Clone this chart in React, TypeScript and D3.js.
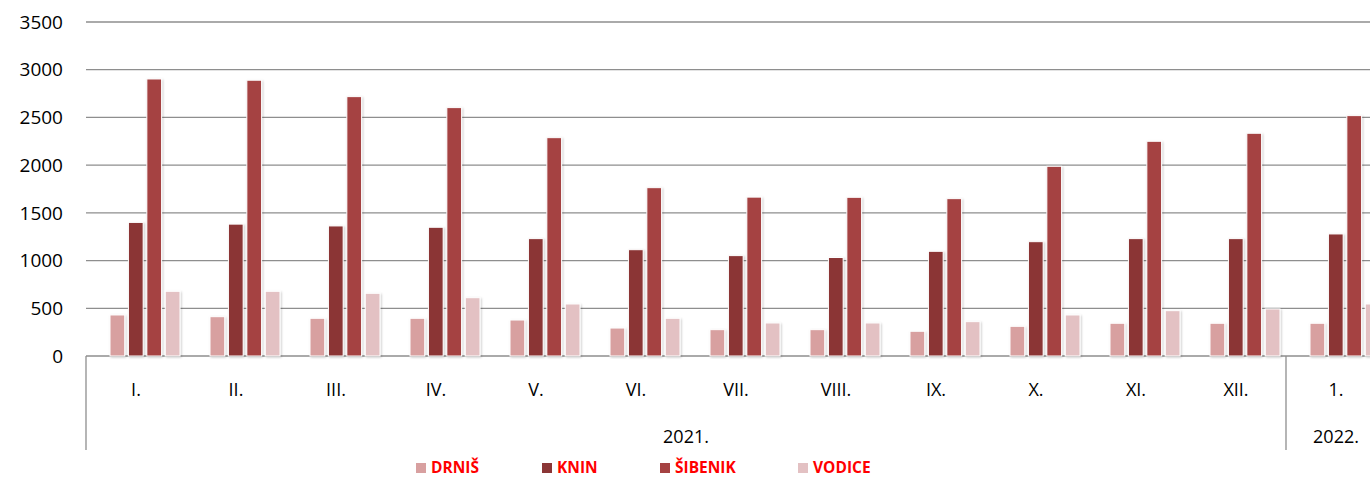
import React, { useEffect, useRef } from 'react';
import * as d3 from 'd3';

// months (2021 I.–XII., then 2022 1.)
const months = ['I.', 'II.', 'III.', 'IV.', 'V.', 'VI.', 'VII.', 'VIII.', 'IX.', 'X.', 'XI.', 'XII.', '1.'];
const years = [
  { label: '2021.', from: 0, to: 12 },
  { label: '2022.', from: 12, to: 13 },
];
const seriesNames = ['DRNIŠ', 'KNIN', 'ŠIBENIK', 'VODICE'];
const drnis = [430, 412, 395, 395, 377, 293, 276, 276, 259, 311, 343, 343, 343];
const knin = [1400, 1382, 1363, 1349, 1230, 1114, 1052, 1032, 1097, 1198, 1230, 1230, 1279];
const sibenik = [2903, 2890, 2718, 2603, 2288, 1764, 1665, 1663, 1649, 1988, 2250, 2334, 2519];
const vodice = [678, 678, 657, 611, 545, 395, 346, 346, 360, 430, 475, 493, 545];
const yTicks = [0, 500, 1000, 1500, 2000, 2500, 3000, 3500];
const colors = ['#d8a0a0', '#8b3636', '#a54242', '#e3c1c3'];

const App = () => {
  const ref = useRef<SVGSVGElement>(null);

  useEffect(() => {
    document.body.style.margin = '0';
    const values = [drnis, knin, sibenik, vodice];
    const svg = d3.select(ref.current);
    svg.selectAll('*').remove();

    const left = 86;
    const top = 22;
    const bottom = 356;
    const bandW = 100;

    const x = d3.scaleBand().domain(months).range([left, left + bandW * months.length]);
    // bars sit a bit right of the band centre, like in the original
    const xi = d3.scaleBand().domain(seriesNames).range([24, 94]).paddingInner(0.2);
    const y = d3.scaleLinear().domain([0, 3500]).range([bottom, top]);

    // shadow
    const defs = svg.append('defs');
    defs.append('filter').attr('id', 'sh').attr('x', '-30%').attr('y', '-5%').attr('width', '160%').attr('height', '115%')
      .append('feDropShadow').attr('dx', 1).attr('dy', 1).attr('stdDeviation', 1.2)
      .attr('flood-color', '#000').attr('flood-opacity', 0.22);

    // grid
    svg.append('g').selectAll('line').data(yTicks).enter().append('line')
      .attr('x1', left).attr('x2', 1370)
      .attr('y1', d => y(d)).attr('y2', d => y(d))
      .attr('stroke', '#8e8e8e').attr('stroke-width', 1.3);

    svg.append('g').selectAll('text').data(yTicks).enter().append('text')
      .attr('x', 63).attr('y', d => y(d)).attr('dy', '0.35em')
      .attr('text-anchor', 'end').attr('font-size', 19).attr('fill', '#000')
      .text(d => d);

    // bars
    values.forEach((vals, si) => {
      svg.append('g').selectAll('rect').data(vals).enter().append('rect')
        .attr('x', (d, i) => (x(months[i]) as number) + (xi(seriesNames[si]) as number))
        .attr('y', d => y(d))
        .attr('width', xi.bandwidth())
        .attr('height', d => bottom - y(d))
        .attr('fill', colors[si])
        .attr('stroke', '#fff').attr('stroke-width', 1)
        .attr('filter', 'url(#sh)');
    });

    // category labels
    svg.append('g').selectAll('text').data(months).enter().append('text')
      .attr('x', d => (x(d) as number) + x.bandwidth() / 2)
      .attr('y', 396).attr('text-anchor', 'middle')
      .attr('font-size', 18).attr('fill', '#000').text(d => d);

    // year labels and separators
    const edge = (i: number) => left + bandW * i;
    svg.append('g').selectAll('line').data([0, 12]).enter().append('line')
      .attr('x1', d => edge(d)).attr('x2', d => edge(d))
      .attr('y1', bottom).attr('y2', 450)
      .attr('stroke', '#8e8e8e').attr('stroke-width', 1.3);
    svg.append('g').selectAll('text').data(years).enter().append('text')
      .attr('x', d => (edge(d.from) + edge(d.to)) / 2)
      .attr('y', 443).attr('text-anchor', 'middle')
      .attr('font-size', 18).attr('fill', '#000').text(d => d.label);

    // legend
    const legendX = [416, 542, 660, 798];
    const lg = svg.append('g').selectAll('g').data(seriesNames).enter().append('g')
      .attr('transform', (d, i) => `translate(${legendX[i]}, 467)`);
    lg.append('rect').attr('x', 0).attr('y', -4).attr('width', 10).attr('height', 10)
      .attr('fill', (d, i) => colors[i]);
    lg.append('text').attr('x', 15).attr('dy', '0.36em')
      .attr('font-size', 15.5).attr('font-weight', 'bold').attr('fill', '#ff0000')
      .text(d => d);
  }, []);

  return (
    <svg ref={ref} width={1370} height={478}
      style={{ display: 'block', fontFamily: '"Open Sans", sans-serif' }} />
  );
};

export default App;
